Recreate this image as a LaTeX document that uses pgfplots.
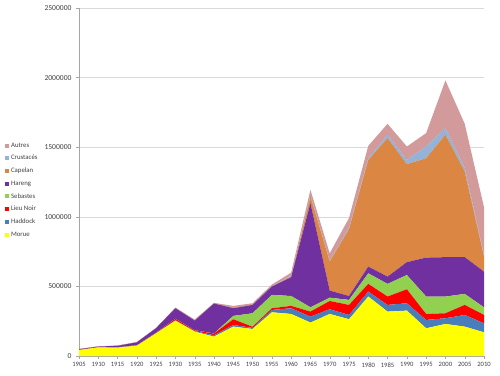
\documentclass[border=0pt]{standalone}
\usepackage{fontspec}
\setmainfont{Carlito}
\usepackage{pgfplots}
\pgfplotsset{compat=1.18}
\definecolor{cMorue}{HTML}{FFFF00}
\definecolor{cHaddock}{HTML}{4A7EBB}
\definecolor{cLieu}{HTML}{FF0000}
\definecolor{cSeb}{HTML}{92D050}
\definecolor{cHareng}{HTML}{7030A0}
\definecolor{cCap}{HTML}{DB8642}
\definecolor{cCrus}{HTML}{95B3D7}
\definecolor{cAutres}{HTML}{D39A9C}
\definecolor{cGrid}{HTML}{D9D9D9}
\definecolor{cTxt}{HTML}{404040}
\begin{document}
\begin{tikzpicture}
\useasboundingbox (0,0) rectangle (500pt,375pt);
\begin{axis}[
  at={(79pt,19pt)}, anchor=south west,
  scale only axis, width=405pt, height=348pt,
  xmin=1905, xmax=2010, ymin=0, ymax=2500000,
  xtick={1905,1910,...,2010},
  ytick={0,500000,...,2500000},
  scaled y ticks=false,
  /pgf/number format/assume math mode=true,
  yticklabel style={/pgf/number format/fixed,/pgf/number format/1000 sep={}, font=\fontsize{7.6}{8}\selectfont, text=cTxt, xshift=-1pt},
  xticklabel style={/pgf/number format/1000 sep={}, font=\fontsize{6.6}{7}\selectfont, text=cTxt},
  axis x line=bottom, axis y line=left,
  axis line style={-, draw=gray!70},
  tick style={draw=gray!70},
  tick align=outside, major tick length=3pt,
  ymajorgrids, grid style={cGrid, line width=0.6pt},
  stack plots=y,
  area legend,
  reverse legend,
  legend style={at={(-0.183,0.619)}, anchor=north west, draw=none, fill=none,
    font=\fontsize{6.8}{7}\selectfont, text=cTxt, row sep=2.6pt, inner sep=0pt},
  legend cell align=left,
  legend image code/.code={\fill[#1] (0pt,-2pt) rectangle (4pt,2pt);},
]
\addplot[fill=cMorue, draw=none] coordinates {
(1905,43000)(1910,62000)(1915,60000)(1920,74000)(1925,163000)(1930,254000)(1935,175000)(1940,139000)(1945,211000)(1950,194000)(1955,314000)(1960,302000)(1965,240000)(1970,302000)(1975,264000)(1980,427000)(1985,319000)(1990,326000)(1995,199000)(2000,230000)(2005,211000)(2010,170000)} \closedcycle;
\addlegendentry{Morue}
\addplot[fill=cHaddock, draw=none] coordinates {
(1905,0)(1910,0)(1915,2000)(1920,2000)(1925,3000)(1930,3000)(1935,4000)(1940,10000)(1945,12000)(1950,8000)(1955,17000)(1960,41000)(1965,43000)(1970,34000)(1975,31000)(1980,36000)(1985,48000)(1990,53000)(1995,60000)(2000,41000)(2005,84000)(2010,65000)} \closedcycle;
\addlegendentry{Haddock}
\addplot[fill=cLieu, draw=none] coordinates {
(1905,1000)(1910,1000)(1915,1000)(1920,1000)(1925,1000)(1930,10000)(1935,5000)(1940,12000)(1945,41000)(1950,8000)(1955,12000)(1960,17000)(1965,36000)(1970,59000)(1975,72000)(1980,55000)(1985,60000)(1990,100000)(1995,43000)(2000,36000)(2005,72000)(2010,60000)} \closedcycle;
\addlegendentry{Lieu Noir}
\addplot[fill=cSeb, draw=none] coordinates {
(1905,0)(1910,0)(1915,0)(1920,1000)(1925,1000)(1930,1000)(1935,1000)(1940,1000)(1945,24000)(1950,97000)(1955,96000)(1960,71000)(1965,31000)(1970,24000)(1975,36000)(1980,76000)(1985,91000)(1990,103000)(1995,125000)(2000,120000)(2005,79000)(2010,55000)} \closedcycle;
\addlegendentry{Sebastes}
\addplot[fill=cHareng, draw=none] coordinates {
(1905,5000)(1910,5000)(1915,10000)(1920,20000)(1925,32000)(1930,75000)(1935,69000)(1940,215000)(1945,55000)(1950,60000)(1955,60000)(1960,135000)(1965,748000)(1970,51000)(1975,28000)(1980,48000)(1985,52000)(1990,92000)(1995,280000)(2000,283000)(2005,264000)(2010,256000)} \closedcycle;
\addlegendentry{Hareng}
\addplot[fill=cCap, draw=none] coordinates {
(1905,0)(1910,0)(1915,0)(1920,0)(1925,0)(1930,0)(1935,0)(1940,0)(1945,0)(1950,0)(1955,0)(1960,5000)(1965,48000)(1970,208000)(1975,480000)(1980,767000)(1985,995000)(1990,704000)(1995,714000)(2000,879000)(2005,616000)(2010,108000)} \closedcycle;
\addlegendentry{Capelan}
\addplot[fill=cCrus, draw=none] coordinates {
(1905,0)(1910,0)(1915,0)(1920,0)(1925,0)(1930,0)(1935,0)(1940,0)(1945,0)(1950,0)(1955,2000)(1960,5000)(1965,10000)(1970,5000)(1975,10000)(1980,12000)(1985,24000)(1990,31000)(1995,84000)(2000,48000)(2005,24000)(2010,12000)} \closedcycle;
\addlegendentry{Crustacés}
\addplot[fill=cAutres, draw=none] coordinates {
(1905,2000)(1910,2000)(1915,3000)(1920,3000)(1925,3000)(1930,5000)(1935,8000)(1940,5000)(1945,17000)(1950,12000)(1955,12000)(1960,23000)(1965,38000)(1970,55000)(1975,70000)(1980,89000)(1985,79000)(1990,96000)(1995,96000)(2000,343000)(2005,318000)(2010,343000)} \closedcycle;
\addlegendentry{Autres}
\end{axis}
\end{tikzpicture}
\end{document}
